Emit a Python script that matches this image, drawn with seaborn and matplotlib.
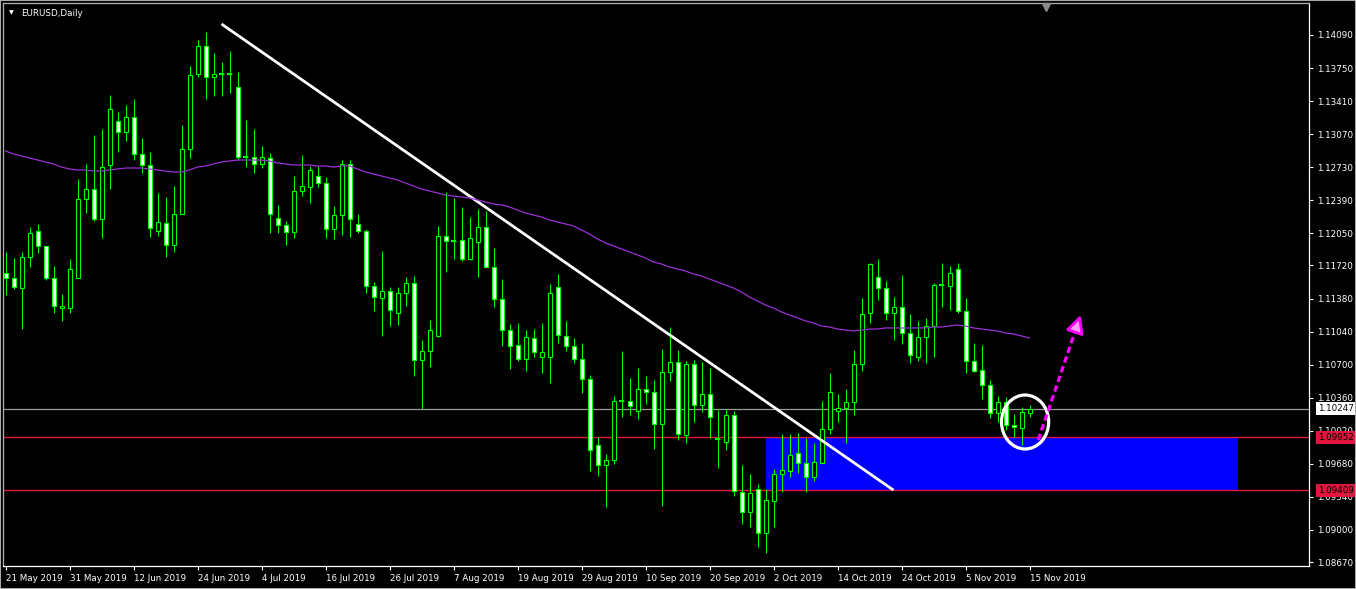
import numpy as np
import pandas as pd
import matplotlib
matplotlib.use("Agg")
import matplotlib.pyplot as plt
import matplotlib.transforms as mtransforms
from matplotlib.patches import Ellipse, Rectangle
import seaborn as sns

# ---------------- data ----------------
symbol_title = "EURUSD,Daily"
start_date = "2019-05-21"

opens = [1.11642, 1.11591, 1.11488, 1.11807, 1.12074, 1.11920, 1.11591, 1.11282, 1.11282, 1.11591,
         1.12403, 1.12506, 1.12198, 1.12753, 1.13206, 1.13092, 1.13247, 1.12866, 1.12753, 1.12074,
         1.12156, 1.11930, 1.12249, 1.12918, 1.13689, 1.13977, 1.13658, 1.13689, 1.13689, 1.13555,
         1.12835, 1.12835, 1.12763, 1.12825, 1.12208, 1.12136, 1.12064, 1.12486, 1.12527, 1.12640,
         1.12568, 1.12095, 1.12239, 1.12763, 1.12146, 1.12074, 1.11509, 1.11385, 1.11457, 1.11231,
         1.11437, 1.11539, 1.10747, 1.10840, 1.10994, 1.12023, 1.11971, 1.11982, 1.11786, 1.11961,
         1.12115, 1.11704, 1.11375, 1.11056, 1.10902, 1.10757, 1.10974, 1.10778, 1.10778, 1.11498,
         1.10994, 1.10891, 1.10757, 1.10552, 1.09873, 1.09668, 1.09719, 1.10326, 1.10326, 1.10223,
         1.10449, 1.10418, 1.10089, 1.10624, 1.10726, 1.09976, 1.10706, 1.10285, 1.10398, 1.09935,
         1.09904, 1.10182, 1.09390, 1.09184, 1.09421, 1.08969, 1.09297, 1.09575, 1.09606, 1.09791,
         1.09688, 1.09544, 1.09688, 1.10038, 1.10223, 1.10254, 1.10315, 1.10706, 1.11231, 1.11601,
         1.11488, 1.11231, 1.11292, 1.11025, 1.10778, 1.10984, 1.11097, 1.11519, 1.11509, 1.11683,
         1.11251, 1.10737, 1.10644, 1.10490, 1.10202, 1.10315, 1.10079, 1.10048, 1.10202]

closes = [1.11591, 1.11498, 1.11807, 1.12054, 1.11920, 1.11591, 1.11302, 1.11302, 1.11683, 1.12403,
          1.12506, 1.12198, 1.12732, 1.13329, 1.13092, 1.13247, 1.12866, 1.12753, 1.12105, 1.12167,
          1.11930, 1.12249, 1.12918, 1.13679, 1.13977, 1.13658, 1.13689, 1.13689, 1.13689, 1.12835,
          1.12835, 1.12763, 1.12835, 1.12249, 1.12136, 1.12064, 1.12486, 1.12537, 1.12702, 1.12568,
          1.12095, 1.12239, 1.12763, 1.12198, 1.12074, 1.11509, 1.11395, 1.11457, 1.11262, 1.11437,
          1.11539, 1.10747, 1.10840, 1.11056, 1.12023, 1.11971, 1.11971, 1.11786, 1.12002, 1.12115,
          1.11704, 1.11375, 1.11056, 1.10891, 1.10757, 1.10984, 1.10829, 1.10829, 1.11437, 1.11005,
          1.10891, 1.10757, 1.10552, 1.09822, 1.09668, 1.09719, 1.10326, 1.10326, 1.10274, 1.10449,
          1.10418, 1.10089, 1.10624, 1.10726, 1.09986, 1.10706, 1.10285, 1.10398, 1.10161, 1.09935,
          1.10182, 1.09401, 1.09184, 1.09380, 1.08969, 1.09308, 1.09575, 1.09616, 1.09771, 1.09688,
          1.09544, 1.09699, 1.10038, 1.10418, 1.10254, 1.10315, 1.10706, 1.11221, 1.11735, 1.11488,
          1.11231, 1.11292, 1.11025, 1.10798, 1.10984, 1.11097, 1.11519, 1.11519, 1.11642, 1.11251,
          1.10737, 1.10634, 1.10490, 1.10202, 1.10315, 1.10079, 1.10058, 1.10213, 1.10247]

highs = [1.11858, 1.11797, 1.11858, 1.12115, 1.12146, 1.11920, 1.11714, 1.11426, 1.11786, 1.12609,
         1.12763, 1.13062, 1.13123, 1.13473, 1.13298, 1.13370, 1.13432, 1.13031, 1.12887, 1.12465,
         1.12424, 1.12537, 1.13164, 1.13771, 1.14039, 1.14121, 1.13905, 1.13812, 1.13926, 1.13710,
         1.13216, 1.13123, 1.12948, 1.12876, 1.12342, 1.12177, 1.12640, 1.12856, 1.12743, 1.12743,
         1.12630, 1.12331, 1.12804, 1.12804, 1.12249, 1.12095, 1.11550, 1.11868, 1.11498, 1.11498,
         1.11601, 1.11611, 1.10953, 1.11159, 1.12126, 1.12475, 1.12414, 1.12321, 1.12218, 1.12300,
         1.12280, 1.11899, 1.11580, 1.11118, 1.11128, 1.11056, 1.11066, 1.11128, 1.11529, 1.11632,
         1.11149, 1.10974, 1.10922, 1.10593, 1.09955, 1.09781, 1.10377, 1.10840, 1.10562, 1.10665,
         1.10583, 1.10542, 1.10860, 1.11087, 1.10850, 1.10737, 1.10747, 1.10726, 1.10665, 1.10233,
         1.10233, 1.10223, 1.09668, 1.09575, 1.09472, 1.09421, 1.09627, 1.09986, 1.09986, 1.09997,
         1.09945, 1.09894, 1.10326, 1.10613, 1.10398, 1.10449, 1.10850, 1.11385, 1.11745, 1.11786,
         1.11560, 1.11395, 1.11622, 1.11221, 1.11149, 1.11180, 1.11539, 1.11745, 1.11714, 1.11745,
         1.11385, 1.10922, 1.10902, 1.10542, 1.10377, 1.10367, 1.10192, 1.10264, 1.10285]

lows = [1.11416, 1.11478, 1.11066, 1.11704, 1.11848, 1.11570, 1.11231, 1.11149, 1.11231, 1.11591,
        1.12259, 1.12177, 1.12002, 1.12506, 1.12887, 1.13000, 1.12804, 1.12671, 1.12012, 1.12023,
        1.11807, 1.11858, 1.12249, 1.12825, 1.13658, 1.13432, 1.13463, 1.13463, 1.13494, 1.12804,
        1.12732, 1.12671, 1.12722, 1.12054, 1.12054, 1.11930, 1.12002, 1.12434, 1.12362, 1.12527,
        1.12002, 1.11992, 1.12033, 1.12012, 1.12054, 1.11437, 1.11251, 1.10994, 1.11097, 1.11108,
        1.11302, 1.10583, 1.10243, 1.10675, 1.10984, 1.11653, 1.11786, 1.11766, 1.11776, 1.11601,
        1.11704, 1.11292, 1.10891, 1.10655, 1.10737, 1.10634, 1.10778, 1.10613, 1.10511, 1.10922,
        1.10840, 1.10716, 1.10408, 1.09606, 1.09555, 1.09236, 1.09678, 1.10161, 1.10182, 1.10141,
        1.10295, 1.09832, 1.09246, 1.10531, 1.09925, 1.09894, 1.10110, 1.10213, 1.09945, 1.09637,
        1.09822, 1.09349, 1.09061, 1.09030, 1.08825, 1.08764, 1.09030, 1.09390, 1.09544, 1.09586,
        1.09390, 1.09503, 1.09688, 1.09986, 1.10110, 1.09894, 1.10182, 1.10634, 1.11128, 1.11365,
        1.11159, 1.10953, 1.10912, 1.10716, 1.10737, 1.10716, 1.10778, 1.11292, 1.11262, 1.11231,
        1.10613, 1.10624, 1.10346, 1.10151, 1.10110, 1.10027, 1.09955, 1.09873, 1.10161]

ma_values = [1.12897, 1.12866, 1.12846, 1.12825, 1.12804, 1.12784, 1.12763, 1.12732, 1.12712, 1.12702,
             1.12702, 1.12691, 1.12691, 1.12702, 1.12712, 1.12722, 1.12722, 1.12722, 1.12712, 1.12702,
             1.12691, 1.12681, 1.12681, 1.12702, 1.12732, 1.12743, 1.12763, 1.12784, 1.12794, 1.12804,
             1.12804, 1.12804, 1.12804, 1.12794, 1.12774, 1.12763, 1.12753, 1.12753, 1.12753, 1.12743,
             1.12743, 1.12732, 1.12743, 1.12743, 1.12712, 1.12681, 1.12660, 1.12640, 1.12619, 1.12599,
             1.12568, 1.12537, 1.12506, 1.12486, 1.12465, 1.12444, 1.12434, 1.12424, 1.12414, 1.12393,
             1.12372, 1.12352, 1.12342, 1.12321, 1.12290, 1.12259, 1.12239, 1.12218, 1.12187, 1.12167,
             1.12146, 1.12126, 1.12085, 1.12043, 1.11992, 1.11951, 1.11920, 1.11889, 1.11858, 1.11827,
             1.11797, 1.11755, 1.11735, 1.11704, 1.11683, 1.11663, 1.11632, 1.11611, 1.11580, 1.11550,
             1.11519, 1.11488, 1.11447, 1.11395, 1.11354, 1.11313, 1.11282, 1.11241, 1.11211, 1.11180,
             1.11149, 1.11128, 1.11097, 1.11087, 1.11066, 1.11056, 1.11046, 1.11056, 1.11066, 1.11066,
             1.11077, 1.11077, 1.11077, 1.11077, 1.11077, 1.11077, 1.11087, 1.11087, 1.11097, 1.11108,
             1.11097, 1.11077, 1.11066, 1.11056, 1.11046, 1.11025, 1.11015, 1.10994, 1.10974]

tick_labels = ["21 May 2019", "31 May 2019", "12 Jun 2019", "24 Jun 2019", "4 Jul 2019",
               "16 Jul 2019", "26 Jul 2019", "7 Aug 2019", "19 Aug 2019", "29 Aug 2019",
               "10 Sep 2019", "20 Sep 2019", "2 Oct 2019", "14 Oct 2019", "24 Oct 2019",
               "5 Nov 2019", "15 Nov 2019"]

price_ticks = [1.14090, 1.13750, 1.13410, 1.13070, 1.12730, 1.12390, 1.12050, 1.11720,
               1.11380, 1.11040, 1.10700, 1.10360, 1.10020, 1.09680, 1.09340, 1.09000, 1.08670]

bid_price = 1.10247
zone_top = 1.09952
zone_bottom = 1.09409
zone_bars = [95, 154]
trend_bars = [27, 111]
trend_prices = [1.14203, 1.09409]
circle_bar, circle_price = 127.45, 1.10110
arrow_start = (129.1, 1.09925)
arrow_end = (134.4, 1.11211)

# ---------------- style ----------------
sns.set_style("dark", rc={"axes.facecolor": "black", "figure.facecolor": "black"})
plt.rcParams["font.family"] = ["DejaVu Sans"]

W, H = 1356, 589
fig = plt.figure(figsize=(W / 100, H / 100), dpi=100, facecolor="black")
ax = fig.add_axes([3 / W, 23 / H, 1306 / W, 563 / H])
ax.set_facecolor("black")
ax.grid(False)

n = len(closes)
dates = pd.bdate_range(start_date, periods=n)
idx = np.arange(n)
o = np.array(opens); c = np.array(closes)
hi = np.array(highs); lo = np.array(lows)

GREEN = "#00ff00"

# zone
ax.fill_between(zone_bars, zone_bottom, zone_top, color="#0000ff", lw=0, zorder=1)
# horizontal lines
ax.axhline(zone_top, color="#e0163c", lw=1.0, zorder=2)
ax.axhline(zone_bottom, color="#e0163c", lw=1.0, zorder=2)
ax.axhline(bid_price, color="#9a9a9a", lw=0.9, zorder=2)

# wicks
ax.vlines(idx, lo, hi, color=GREEN, lw=0.75, zorder=3)
# bodies
bottoms = np.minimum(o, c)
heights = np.abs(c - o)
faces = ["white" if cc < oo else "black" for oo, cc in zip(o, c)]
ax.bar(idx, heights, bottom=bottoms, width=0.5, color=faces, edgecolor=GREEN,
       linewidth=0.8, zorder=4)
doji = heights == 0
ax.hlines(c[doji], idx[doji] - 0.35, idx[doji] + 0.35, color=GREEN, lw=1.5, zorder=4)

# moving average via seaborn
sns.lineplot(x=idx, y=ma_values, ax=ax, color="#9b30d9", linewidth=0.9, zorder=6, legend=False)

# trend line
ax.plot(trend_bars, trend_prices, color="white", lw=2.0, zorder=5, solid_capstyle="butt")

# circle
ax.add_patch(Ellipse((circle_bar, circle_price), width=5.9, height=0.00555, fill=False,
                     ec="white", lw=2.3, zorder=7))

# dotted arrow
fx = 0.9
shaft_end = (arrow_start[0] + fx * (arrow_end[0] - arrow_start[0]),
             arrow_start[1] + fx * (arrow_end[1] - arrow_start[1]))
ax.plot([arrow_start[0], shaft_end[0]], [arrow_start[1], shaft_end[1]], color="#ff00ff",
        lw=2.3, ls=(0, (2.0, 1.2)), zorder=8)
back = (arrow_start[0] + 0.86 * (arrow_end[0] - arrow_start[0]),
        arrow_start[1] + 0.86 * (arrow_end[1] - arrow_start[1]))
ax.annotate("", xy=arrow_end, xytext=back,
            arrowprops=dict(arrowstyle="-|>,head_length=0.9,head_width=0.45", color="#ff00ff",
                            fc="#ff9cff", ec="#ff00ff", lw=2.0, mutation_scale=12,
                            shrinkA=0, shrinkB=0), zorder=9)

# limits (half-pixel shift so candle centres fall on pixel centres)
ax.set_xlim(-0.25 - 0.0625, 163.0 - 0.0625)
ax.set_ylim(1.08629, 1.14419)

# axes ticks
ax.set_xticks(list(range(0, n, 8)))
ax.set_xticklabels(tick_labels, ha="left")
ax.yaxis.tick_right()
ax.set_yticks(price_ticks)
ax.set_yticklabels([f"{p:.5f}" for p in price_ticks])
ax.tick_params(axis="x", colors="white", length=3, width=0.8, pad=2.5, labelsize=6.3,
               direction="out", bottom=True)
ax.tick_params(axis="y", colors="white", length=3, width=0.8, pad=2.5, labelsize=6.3,
               direction="out", right=True, left=False)
ax.set_xlabel("")
ax.set_ylabel("")
for side in ["right", "bottom"]:
    ax.spines[side].set_color("white")
    ax.spines[side].set_linewidth(0.9)
    ax.spines[side].set_visible(True)
for side in ["left", "top"]:
    ax.spines[side].set_color("#b0b0b0")
    ax.spines[side].set_linewidth(0.9)
    ax.spines[side].set_visible(True)

# price boxes on the right scale
trans = mtransforms.blended_transform_factory(ax.transAxes, ax.transData)
box_x = 1.0 + 9 / 1306
for price, fc in [(bid_price, "white"), (zone_top, "#e0163c"), (zone_bottom, "#e0163c")]:
    ax.text(box_x, price, f"{price:.5f}", transform=trans, ha="left", va="center",
            fontsize=6.3, color="black", clip_on=False, zorder=20,
            bbox=dict(boxstyle="square,pad=0.22", fc=fc, ec="none"))

# chart shift marker
trans2 = mtransforms.blended_transform_factory(ax.transData, ax.transAxes)
ax.plot([130], [0.993], marker="v", color="#8c8c8c", markersize=6, transform=trans2,
        clip_on=False, zorder=20)

# title
fig.text(9 / W, 1 - 13 / H, "\u25bc", color="white", fontsize=4.5, va="center", ha="left")
fig.text(21 / W, 1 - 13 / H, symbol_title, color="white", fontsize=6.3, va="center", ha="left")

# window border
fig.patches.append(Rectangle((0, 0), 1, 1, transform=fig.transFigure, fill=False,
                             ec="#a8a8a8", lw=1.5, zorder=30))

fig.savefig("out.png", dpi=100, facecolor="black")
